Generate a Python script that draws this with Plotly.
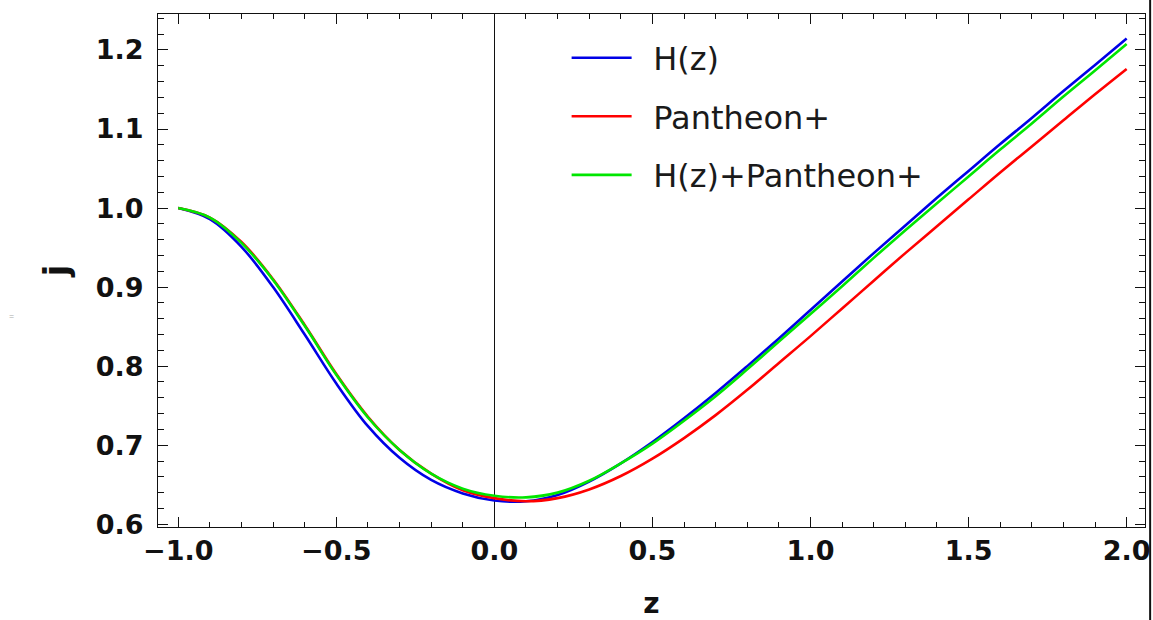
import plotly.graph_objects as go

# ---- data ----
z = [-1.0, -0.9, -0.8, -0.7, -0.6, -0.5, -0.4, -0.3, -0.2, -0.1,
     0.0, 0.1, 0.2, 0.3, 0.4, 0.5, 0.6, 0.7, 0.8, 0.9,
     1.0, 1.1, 1.2, 1.3, 1.4, 1.5, 1.6, 1.7, 1.8, 1.9, 2.0]

j_hz = [1.000, 0.986, 0.951, 0.900, 0.840, 0.778, 0.724, 0.684, 0.656, 0.639,
        0.630, 0.629, 0.637, 0.654, 0.677, 0.704, 0.734, 0.766, 0.800, 0.835,
        0.871, 0.907, 0.943, 0.978, 1.013, 1.047, 1.081, 1.114, 1.148, 1.181, 1.2145]

j_pantheon = [1.000, 0.988, 0.957, 0.910, 0.852, 0.790, 0.736, 0.694, 0.664, 0.643,
              0.633, 0.629, 0.633, 0.644, 0.661, 0.683, 0.709, 0.738, 0.770, 0.804,
              0.838, 0.873, 0.908, 0.943, 0.977, 1.011, 1.045, 1.078, 1.111, 1.144, 1.176]

j_joint = [1.000, 0.988, 0.956, 0.909, 0.851, 0.789, 0.735, 0.694, 0.664, 0.645,
           0.636, 0.634, 0.640, 0.655, 0.677, 0.702, 0.731, 0.762, 0.796, 0.831,
           0.866, 0.901, 0.937, 0.972, 1.006, 1.040, 1.074, 1.107, 1.141, 1.174, 1.2075]

series_names = ["H(z)", "Pantheon+", "H(z)+Pantheon+"]
series_colors = ["#0000e6", "#ff0000", "#00e600"]

x_tick_vals = [-1.0, -0.5, 0.0, 0.5, 1.0, 1.5, 2.0]
x_tick_text = ["\u22121.0", "\u22120.5", "0.0", "0.5", "1.0", "1.5", "2.0"]
y_tick_vals = [0.6, 0.7, 0.8, 0.9, 1.0, 1.1, 1.2]
y_tick_text = ["0.6", "0.7", "0.8", "0.9", "1.0", "1.1", "1.2"]

# ---- figure ----
fig = go.Figure()
for name, ys, col in zip(series_names, [j_hz, j_pantheon, j_joint], series_colors):
    fig.add_trace(go.Scatter(
        x=z, y=ys, mode="lines", name="&nbsp;&#8201;" + name, legendgroup=name,
        line=dict(color=col, width=2.6, shape="spline", smoothing=1.0),
    ))

tickfont = dict(family="DejaVu Sans", size=27, color="#111111", weight="bold")

fig.update_layout(
    width=1153, height=620,
    margin=dict(l=158, r=8, t=14, b=93),
    paper_bgcolor="white", plot_bgcolor="white",
    showlegend=True,
    legend=dict(
        x=0.414, y=0.968, xanchor="left", yanchor="top",
        bgcolor="rgba(0,0,0,0)", borderwidth=0,
        font=dict(family="DejaVu Sans", size=32, color="#1a1a1a"),
        itemwidth=60, tracegroupgap=14,
    ),
    xaxis=dict(
        range=[-1.064, 2.058], automargin=False,
        tickvals=x_tick_vals, ticktext=x_tick_text,
        ticks="inside", ticklen=10, tickwidth=1, tickcolor="#111111",
        minor=dict(dtick=0.1, ticks="inside", ticklen=5, tickwidth=1, tickcolor="#111111"),
        showline=True, linecolor="#111111", linewidth=1, mirror="allticks",
        showgrid=False,
        zeroline=True, zerolinecolor="#111111", zerolinewidth=1,
        tickfont=tickfont, ticklabelstandoff=0,
        title=dict(text="<b>z</b>", font=dict(family="DejaVu Sans", size=28, color="#111111"), standoff=31),
    ),
    yaxis=dict(
        range=[0.5965, 1.2455], automargin=False,
        tickvals=y_tick_vals, ticktext=y_tick_text,
        ticks="inside", ticklen=10, tickwidth=1, tickcolor="#111111",
        minor=dict(dtick=0.02, ticks="inside", ticklen=6, tickwidth=1, tickcolor="#111111"),
        showline=True, linecolor="#111111", linewidth=1, mirror="allticks",
        showgrid=False, zeroline=False,
        tickfont=tickfont, ticklabelstandoff=8,
        title=dict(text="<b>j</b>", font=dict(family="DejaVu Sans", size=34, color="#111111"), standoff=16),
    ),
    shapes=[
        dict(type="line", xref="paper", yref="paper",
             x0=1.0052, x1=1.0052, y0=-0.19, y1=1.03,
             line=dict(color="#111111", width=2)),
    ],
    annotations=[
        dict(text="=", xref="paper", yref="paper", x=-0.153, y=0.41,
             showarrow=False, font=dict(size=9, color="#aaaaaa")),
    ],
)

fig.write_html("out.html")
